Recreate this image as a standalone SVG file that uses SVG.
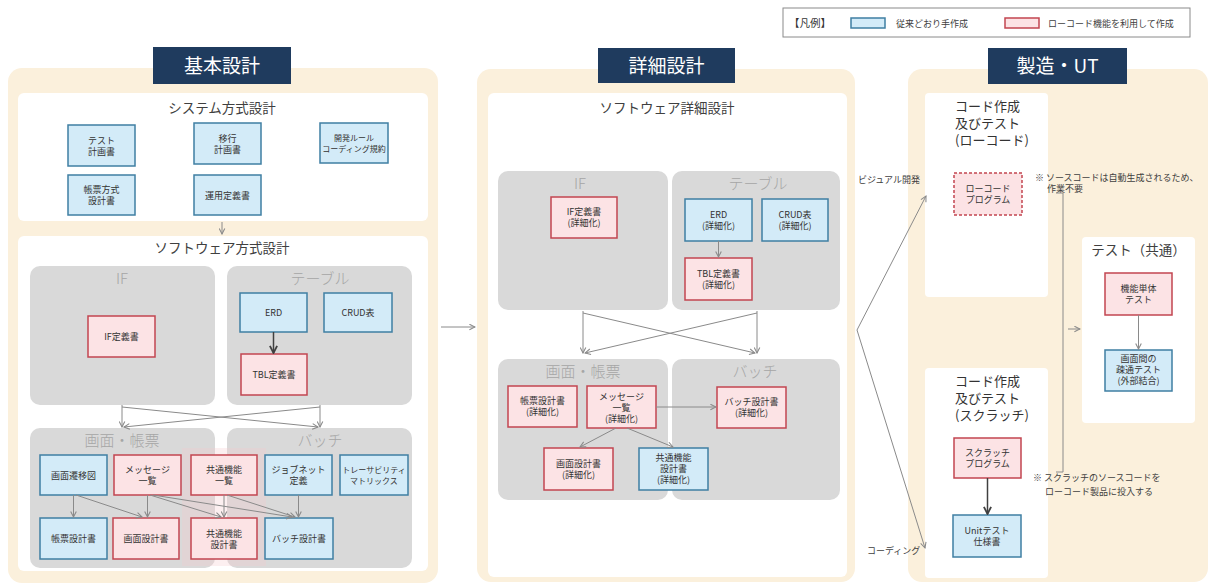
<svg xmlns="http://www.w3.org/2000/svg" width="1208" height="586" viewBox="0 0 1208 586">
<style>
text{font-family:"Noto Sans CJK JP","Noto Sans",sans-serif}
.panel{fill:#FBF0DC}
.white{fill:#FFFFFF}
.grp{fill:#D9D9D9}
.hdr{fill:#1F3B5E}
.ht{fill:#FFFFFF;font-size:19px;text-anchor:middle}
.sec{fill:#404040;font-size:13.5px;text-anchor:middle}
.gl{fill:#A6A6A6;font-size:15px;text-anchor:middle;font-weight:300}
.blue{fill:#D3EBF8;stroke:#3F7FA3;stroke-width:1.5}
.pink{fill:#FCE3E5;stroke:#C24550;stroke-width:1.5}
.dash{fill:#FCE3E5;stroke:#C24550;stroke-width:1.5;stroke-dasharray:3 2}
.t{fill:#333333;font-size:9px;text-anchor:middle}
.ts{fill:#333333;font-size:8px;text-anchor:middle}
.note{fill:#404040;font-size:9px}
.ct{fill:#333333;font-size:13px}
.conn line,.conn polyline{stroke:#8A8A8A;stroke-width:1;fill:none}
.conn .dark{stroke:#404040;stroke-width:1.5}
</style>
<defs>
<marker id="ag" viewBox="0 0 10 10" refX="9" refY="5" markerWidth="7" markerHeight="7" orient="auto" markerUnits="userSpaceOnUse">
<path d="M1,1 L9,5 L1,9" fill="none" stroke="#8A8A8A" stroke-width="1.5"/>
</marker>
<marker id="ad" viewBox="0 0 10 10" refX="9" refY="5" markerWidth="9" markerHeight="9" orient="auto" markerUnits="userSpaceOnUse">
<path d="M1,1 L9,5 L1,9" fill="none" stroke="#404040" stroke-width="2"/>
</marker>
</defs>

<!-- Legend -->
<g id="legend">
<rect x="783" y="8" width="407" height="29" fill="#FFFFFF" stroke="#8A8A8A" stroke-width="1"/>
<text x="789" y="27" style="font-size:10.5px;fill:#333">【凡例】</text>
<rect x="851" y="18" width="34" height="10" class="blue"/>
<text x="896" y="26.5" class="note">従来どおり手作成</text>
<rect x="1005" y="18" width="34" height="10" class="pink"/>
<text x="1048" y="26.5" class="note">ローコード機能を利用して作成</text>
</g>

<!-- Panels -->
<g id="panel-basic">
<rect x="8" y="68" width="430" height="515" rx="14" class="panel"/>
<rect x="153" y="47" width="138" height="37" class="hdr"/>
<text x="222" y="72.5" class="ht">基本設計</text>
<rect x="18" y="93" width="410" height="128" rx="6" class="white"/>
<text x="222" y="113" class="sec">システム方式設計</text>
<rect x="18" y="236" width="410" height="335" rx="6" class="white"/>
<text x="222" y="253" class="sec">ソフトウェア方式設計</text>
<rect x="30" y="266" width="185" height="139" rx="10" class="grp"/>
<text x="122" y="284" class="gl">IF</text>
<rect x="227" y="266" width="185" height="139" rx="10" class="grp"/>
<text x="320" y="284" class="gl">テーブル</text>
<rect x="30" y="428" width="185" height="140" rx="10" class="grp"/>
<text x="122" y="446" class="gl">画面・帳票</text>
<rect x="227" y="428" width="185" height="140" rx="10" class="grp"/>
<text x="320" y="446" class="gl">バッチ</text>
<rect x="182" y="448" width="84" height="118" fill="#F4C9CD" opacity="0.3"/>
</g>

<g id="panel-detail">
<rect x="477" y="69" width="378" height="513" rx="14" class="panel"/>
<rect x="598" y="48" width="137" height="35" class="hdr"/>
<text x="666.5" y="72.5" class="ht">詳細設計</text>
<rect x="488" y="93" width="359" height="484" rx="6" class="white"/>
<text x="667" y="113" class="sec">ソフトウェア詳細設計</text>
<rect x="498" y="171" width="170" height="139" rx="10" class="grp"/>
<text x="580" y="189" class="gl">IF</text>
<rect x="672" y="171" width="168" height="139" rx="10" class="grp"/>
<text x="758" y="189" class="gl">テーブル</text>
<rect x="498" y="359" width="170" height="141" rx="10" class="grp"/>
<text x="583" y="377" class="gl">画面・帳票</text>
<rect x="672" y="359" width="168" height="141" rx="10" class="grp"/>
<text x="755" y="377" class="gl">バッチ</text>
</g>

<g id="panel-build">
<rect x="908" y="69" width="300" height="513" rx="14" class="panel"/>
<rect x="988" y="48" width="139" height="36" class="hdr"/>
<text x="1057.5" y="72.5" class="ht">製造・UT</text>
<rect x="925" y="93" width="123" height="204" rx="4" class="white"/>
<text x="955" y="111" class="ct">コード作成</text>
<text x="955" y="128" class="ct">及びテスト</text>
<text x="955" y="145" class="ct">(ローコード)</text>
<rect x="925" y="368" width="123" height="210" rx="4" class="white"/>
<text x="955" y="386" class="ct">コード作成</text>
<text x="955" y="403" class="ct">及びテスト</text>
<text x="955" y="420" class="ct">(スクラッチ)</text>
<rect x="1082" y="237" width="113" height="186" rx="4" class="white"/>
<text x="1138.5" y="255" class="sec">テスト（共通）</text>
<text x="1035" y="181" class="note">※ ソースコードは自動生成されるため、</text>
<text x="1047" y="192" class="note">作業不要</text>
<text x="1033" y="481" class="note">※ スクラッチのソースコードを</text>
<text x="1045" y="495" class="note">ローコード製品に投入する</text>
<text x="920" y="183" class="note" text-anchor="end">ビジュアル開発</text>
<text x="867" y="554" class="note">コーディング</text>
</g>

<!-- Nodes: system design -->
<g id="n-test-plan"><rect x="68" y="125" width="67" height="41" class="blue"/><text x="101.5" y="143.5" class="t">テスト</text><text x="101.5" y="154.5" class="t">計画書</text></g>
<g id="n-migration-plan"><rect x="194" y="123" width="67" height="41" class="blue"/><text x="227.5" y="141.5" class="t">移行</text><text x="227.5" y="152.5" class="t">計画書</text></g>
<g id="n-dev-rule"><rect x="320" y="123" width="68" height="40" class="blue"/><text x="354" y="141" class="ts">開発ルール</text><text x="354" y="152" class="ts">コーディング規約</text></g>
<g id="n-report-method"><rect x="68" y="175" width="67" height="40" class="blue"/><text x="101.5" y="193" class="t">帳票方式</text><text x="101.5" y="204" class="t">設計書</text></g>
<g id="n-ops-def"><rect x="194" y="175" width="67" height="40" class="blue"/><text x="227.5" y="198.5" class="t">運用定義書</text></g>

<!-- Nodes: software method design -->
<g id="n-if-def"><rect x="88" y="316" width="67" height="41" class="pink"/><text x="121.5" y="340" class="t">IF定義書</text></g>
<g id="n-erd"><rect x="240" y="293" width="67" height="39" class="blue"/><text x="273.5" y="316" class="t">ERD</text></g>
<g id="n-crud"><rect x="324" y="293" width="68" height="39" class="blue"/><text x="358" y="316" class="t">CRUD表</text></g>
<g id="n-tbl-def"><rect x="241" y="354" width="66" height="41" class="pink"/><text x="274" y="378" class="t">TBL定義書</text></g>
<g id="n-screen-flow"><rect x="40" y="455" width="67" height="40" class="blue"/><text x="73.5" y="478.5" class="t">画面遷移図</text></g>
<g id="n-msg-list"><rect x="114" y="455" width="67" height="40" class="pink"/><text x="147.5" y="473" class="t">メッセージ</text><text x="147.5" y="484" class="t">一覧</text></g>
<g id="n-common-list"><rect x="191" y="455" width="66" height="40" class="pink"/><text x="224" y="473" class="t">共通機能</text><text x="224" y="484" class="t">一覧</text></g>
<g id="n-jobnet"><rect x="265" y="455" width="67" height="40" class="blue"/><text x="298.5" y="473" class="t">ジョブネット</text><text x="298.5" y="484" class="t">定義</text></g>
<g id="n-trace"><rect x="340" y="455" width="68" height="40" class="blue"/><text x="374" y="473" class="ts">トレーサビリティ</text><text x="374" y="484" class="ts">マトリックス</text></g>
<g id="n-report-design"><rect x="40" y="518" width="67" height="41" class="blue"/><text x="73.5" y="542" class="t">帳票設計書</text></g>
<g id="n-screen-design"><rect x="113" y="518" width="66" height="41" class="pink"/><text x="146" y="542" class="t">画面設計書</text></g>
<g id="n-common-design"><rect x="191" y="518" width="66" height="41" class="pink"/><text x="224" y="536.5" class="t">共通機能</text><text x="224" y="547.5" class="t">設計書</text></g>
<g id="n-batch-design"><rect x="265" y="518" width="68" height="41" class="blue"/><text x="299" y="542" class="t">バッチ設計書</text></g>

<!-- Nodes: detail design -->
<g id="d-if-def"><rect x="551" y="197" width="66" height="41" class="pink"/><text x="584" y="215" class="t">IF定義書</text><text x="584" y="226" class="t">(詳細化)</text></g>
<g id="d-erd"><rect x="685" y="199" width="67" height="42" class="blue"/><text x="718.5" y="217.5" class="t">ERD</text><text x="718.5" y="228.5" class="t">(詳細化)</text></g>
<g id="d-crud"><rect x="762" y="199" width="66" height="42" class="blue"/><text x="795" y="217.5" class="t">CRUD表</text><text x="795" y="228.5" class="t">(詳細化)</text></g>
<g id="d-tbl-def"><rect x="685" y="258" width="67" height="42" class="pink"/><text x="718.5" y="276.5" class="t">TBL定義書</text><text x="718.5" y="287.5" class="t">(詳細化)</text></g>
<g id="d-report-design"><rect x="508" y="386" width="69" height="41" class="pink"/><text x="542.5" y="404" class="t">帳票設計書</text><text x="542.5" y="415" class="t">(詳細化)</text></g>
<g id="d-msg-list"><rect x="587" y="386" width="69" height="42" class="pink"/><text x="621.5" y="399.5" class="t">メッセージ</text><text x="621.5" y="410.5" class="t">一覧</text><text x="621.5" y="421.5" class="t">(詳細化)</text></g>
<g id="d-batch-design"><rect x="717" y="387" width="69" height="41" class="pink"/><text x="751.5" y="405" class="t">バッチ設計書</text><text x="751.5" y="416" class="t">(詳細化)</text></g>
<g id="d-screen-design"><rect x="544" y="448" width="69" height="42" class="pink"/><text x="578.5" y="466.5" class="t">画面設計書</text><text x="578.5" y="477.5" class="t">(詳細化)</text></g>
<g id="d-common-design"><rect x="639" y="448" width="69" height="42" class="blue"/><text x="673.5" y="461" class="t">共通機能</text><text x="673.5" y="472" class="t">設計書</text><text x="673.5" y="483" class="t">(詳細化)</text></g>

<!-- Nodes: build / UT -->
<g id="b-lowcode"><rect x="954" y="173" width="68" height="42" class="dash"/><text x="988" y="191.5" class="t">ローコード</text><text x="988" y="202.5" class="t">プログラム</text></g>
<g id="b-scratch"><rect x="954" y="438" width="67" height="40" class="pink"/><text x="987.5" y="456" class="t">スクラッチ</text><text x="987.5" y="467" class="t">プログラム</text></g>
<g id="b-unit-spec"><rect x="953" y="515" width="68" height="42" class="blue"/><text x="987" y="533.5" class="t">Unitテスト</text><text x="987" y="544.5" class="t">仕様書</text></g>
<g id="b-func-test"><rect x="1105" y="273" width="67" height="42" class="pink"/><text x="1138.5" y="291.5" class="t">機能単体</text><text x="1138.5" y="302.5" class="t">テスト</text></g>
<g id="b-screen-test"><rect x="1105" y="350" width="67" height="41" class="blue"/><text x="1138.5" y="362" class="t">画面間の</text><text x="1138.5" y="373" class="t">疎通テスト</text><text x="1138.5" y="384" class="t">(外部結合)</text></g>

<!-- Connectors -->
<g id="connectors" class="conn">
<line x1="222" y1="222" x2="222" y2="234" marker-end="url(#ag)"/>
<line class="dark" x1="273.5" y1="332" x2="273.5" y2="353" marker-end="url(#ad)"/>
<line x1="122" y1="405" x2="122" y2="427" marker-end="url(#ag)"/>
<line x1="320" y1="405" x2="320" y2="427" marker-end="url(#ag)"/>
<line x1="122" y1="407" x2="318" y2="427" marker-end="url(#ag)"/>
<line x1="320" y1="407" x2="124" y2="427" marker-end="url(#ag)"/>
<line x1="73.5" y1="495" x2="73.5" y2="517" marker-end="url(#ag)"/>
<line x1="76" y1="495" x2="142" y2="517" marker-end="url(#ag)"/>
<line x1="147.5" y1="495" x2="147.5" y2="517" marker-end="url(#ag)"/>
<line x1="150" y1="495" x2="221" y2="517" marker-end="url(#ag)"/>
<line x1="153" y1="495" x2="292" y2="517" marker-end="url(#ag)"/>
<line x1="224" y1="495" x2="224" y2="517" marker-end="url(#ag)"/>
<line x1="227" y1="495" x2="295" y2="517" marker-end="url(#ag)"/>
<line x1="298.5" y1="495" x2="298.5" y2="517" marker-end="url(#ag)"/>
<line x1="441" y1="327" x2="475" y2="327" marker-end="url(#ag)"/>
<line x1="718.5" y1="241" x2="718.5" y2="257" marker-end="url(#ag)"/>
<line x1="583" y1="311" x2="583" y2="353" marker-end="url(#ag)"/>
<line x1="757" y1="311" x2="757" y2="353" marker-end="url(#ag)"/>
<line x1="583" y1="313" x2="755" y2="353" marker-end="url(#ag)"/>
<line x1="757" y1="313" x2="585" y2="353" marker-end="url(#ag)"/>
<line x1="656" y1="407" x2="716" y2="407" marker-end="url(#ag)"/>
<line x1="616" y1="428" x2="580" y2="447" marker-end="url(#ag)"/>
<line x1="627" y1="428" x2="673" y2="447" marker-end="url(#ag)"/>
<line x1="857" y1="330" x2="926" y2="196" marker-end="url(#ag)"/>
<line x1="857" y1="330" x2="925" y2="548" marker-end="url(#ag)"/>
<polyline points="1056,193 1063,193 1063,472 1056,472"/>
<line x1="1068" y1="329" x2="1080" y2="329" marker-end="url(#ag)"/>
<line x1="1138.5" y1="315" x2="1138.5" y2="349" marker-end="url(#ag)"/>
<line class="dark" x1="987.5" y1="478" x2="987.5" y2="514" marker-end="url(#ad)"/>
</g>
</svg>
